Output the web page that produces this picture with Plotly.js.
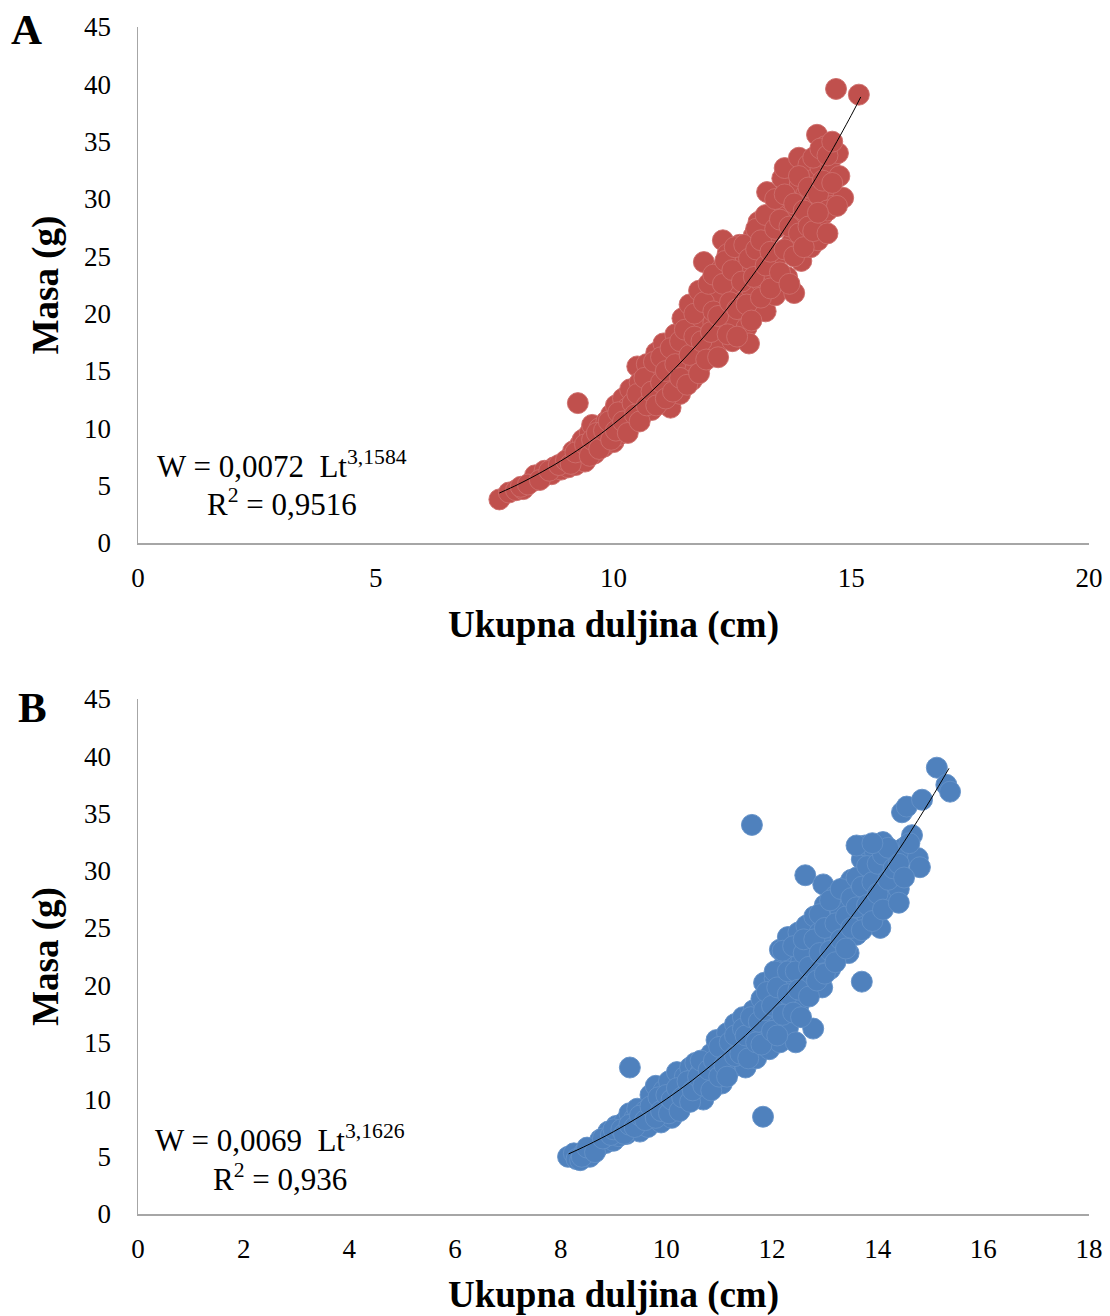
<!DOCTYPE html>
<html>
<head>
<meta charset="utf-8">
<script src="https://cdn.plot.ly/plotly-3.0.1.min.js"></script>
<style>
html,body{margin:0;padding:0;background:#fff;}
#chart{width:1110px;height:1316px;}
</style>
</head>
<body>
<div id="chart"></div>
<script>
// ---- Panel A data (Ukupna duljina cm, Masa g) ----
const lengthA = [7.6,7.8,7.95,8.1,8.05,8.3,8.35,8.5,8.55,8.7,8.75,8.9,8.95,9.05,9.1,9.15,9.25,9.2,9.3,9.3,9.35,9.4,9.45,9.5,9.55,9.6,9.65,9.7,9.75,9.8,9.85,9.9,9.95,10.0,10.0,10.05,10.1,10.15,10.2,10.25,10.3,10.35,10.4,10.45,10.5,10.55,10.6,10.6,10.7,10.75,10.8,10.85,10.9,10.95,11.0,11.05,11.1,11.15,11.2,11.25,11.3,11.35,11.4,11.45,11.5,11.55,11.6,11.65,11.7,11.75,11.8,11.85,11.9,11.95,12.0,12.0,12.05,12.1,12.15,12.2,12.25,12.3,12.3,12.35,12.4,12.45,12.5,12.55,12.6,12.65,12.7,12.75,12.8,12.85,12.9,12.95,13.0,13.0,13.05,13.1,13.15,13.2,13.23,13.3,13.35,13.4,13.45,13.5,13.55,13.6,13.6,13.65,13.7,13.75,13.8,13.85,13.9,13.92,13.95,14.0,14.05,14.1,14.15,14.2,14.25,14.28,14.3,14.35,14.4,14.45,14.5,14.55,14.6,14.68,14.72,14.75,14.83,15.16,
  8.2,8.45,8.65,8.85,9.0,9.1,9.2,9.4,9.5,9.55,9.65,9.7,9.8,9.9,9.95,10.05,10.1,10.2,10.3,10.4,10.45,10.5,10.55,10.65,10.7,10.8,10.85,10.9,11.0,11.0,11.1,11.1,11.2,11.25,11.3,11.4,11.4,11.5,11.55,11.6,11.7,11.7,11.8,11.85,11.9,11.95,12.0,12.05,12.1,12.1,12.2,12.2,12.3,12.35,12.4,12.45,12.5,12.55,12.6,12.6,12.7,12.75,12.8,12.85,12.9,12.95,13.0,13.0,13.1,13.1,13.2,13.2,13.3,13.3,13.4,13.4,13.5,13.5,13.6,13.6,13.7,13.7,13.8,13.8,13.9,13.9,14.0,14.0,14.1,14.1,14.2,14.2,14.3,14.35,14.4,14.5,14.5,14.6,14.6,14.7,14.5,14.3];
const massA   = [3.8,4.4,4.6,4.7,4.9,5.4,5.9,5.7,6.3,6.0,6.6,6.4,7.0,6.6,7.5,8.0,12.2,6.8,7.4,8.6,9.0,7.1,8.2,9.6,10.3,7.8,8.8,10.0,9.2,8.4,10.6,9.6,11.2,8.8,10.2,12.0,9.4,11.0,12.6,10.0,11.8,13.4,10.6,12.4,15.4,14.0,11.2,12.9,15.6,13.8,11.6,14.6,16.6,12.6,15.2,17.4,13.4,16.0,11.8,14.2,18.2,16.8,13.0,19.6,15.2,17.8,20.8,14.2,16.6,19.0,22.0,15.6,24.5,18.0,20.6,16.6,22.6,19.2,17.2,21.4,23.8,26.4,18.6,20.2,25.2,22.4,17.6,19.6,23.2,26.0,21.0,24.4,18.8,17.4,22.2,26.8,20.4,24.2,28.0,22.8,25.6,20.2,30.6,27.0,23.6,21.6,29.2,25.2,31.8,27.8,32.7,23.2,30.0,26.2,21.8,28.6,33.6,31.4,24.6,27.2,30.4,33.0,25.8,29.4,31.8,35.6,26.4,32.8,28.6,34.6,30.8,33.2,29.4,39.6,34.0,32.0,30.1,39.1,
  5.1,5.5,6.3,6.8,7.2,6.9,7.9,8.6,7.6,9.0,9.6,8.2,9.8,10.6,9.0,9.8,11.4,10.6,9.6,12.2,11.2,13.0,10.6,14.4,12.0,13.2,15.8,12.0,14.0,16.2,12.6,15.0,17.0,13.2,15.6,14.4,17.6,18.6,13.8,16.4,18.0,20.0,14.8,17.6,21.0,16.0,22.6,18.4,20.2,23.4,16.2,19.8,22.6,24.6,18.2,21.0,23.8,25.8,20.4,18.0,22.8,26.0,20.8,24.8,19.4,23.2,25.6,27.4,21.4,26.4,24.2,28.6,22.2,25.4,27.4,30.0,23.6,28.2,25.6,30.4,27.6,22.6,29.6,25.0,27.0,32.0,29.0,25.8,31.0,27.6,33.6,27.2,30.4,34.4,31.6,29.0,33.8,35.0,31.4,29.4,27.0,28.8];
// trend line A
const trendLenA  = [7.6,8,8.5,9,9.5,10,10.5,11,11.5,12,12.5,13,13.5,14,14.5,15,15.2];
const trendMassA = [4.36,5.12,6.21,7.43,8.82,10.37,12.10,14.02,16.13,18.45,20.99,23.76,26.76,30.04,33.55,37.3,38.9];

// ---- Panel B data ----
const lengthB = [8.14,8.25,8.3,8.37,8.45,8.55,8.6,8.7,8.75,8.85,8.9,9.0,9.05,9.1,9.2,9.25,9.31,9.3,9.35,9.4,9.45,9.5,9.55,9.6,9.65,9.7,9.75,9.8,9.85,9.9,9.95,10.0,10.05,10.1,10.15,10.2,10.25,10.3,10.35,10.4,10.45,10.5,10.55,10.6,10.65,10.7,10.75,10.8,10.85,10.9,10.95,11.0,11.05,11.1,11.15,11.2,11.25,11.3,11.35,11.4,11.45,11.5,11.55,11.6,11.62,11.65,11.7,11.75,11.8,11.83,11.85,11.9,11.95,12.0,12.05,12.1,12.15,12.15,12.2,12.25,12.3,12.3,12.35,12.4,12.45,12.5,12.5,12.55,12.6,12.63,12.65,12.7,12.75,12.78,12.8,12.85,12.9,12.95,12.97,13.0,13.05,13.1,13.15,13.2,13.25,13.3,13.35,13.4,13.45,13.5,13.55,13.6,13.65,13.7,13.7,13.75,13.76,13.8,13.85,13.9,13.95,14.0,14.05,14.1,14.1,14.15,14.2,14.25,14.3,14.33,14.4,14.45,14.46,14.5,14.55,14.65,14.76,14.8,14.84,15.12,15.3,15.37,
  8.4,8.5,8.65,8.8,8.95,9.0,9.15,9.2,9.3,9.4,9.5,9.6,9.7,9.8,9.85,9.9,10.0,10.05,10.1,10.2,10.25,10.3,10.4,10.45,10.5,10.6,10.65,10.7,10.8,10.85,10.9,11.0,11.0,11.1,11.15,11.2,11.3,11.3,11.4,11.45,11.5,11.55,11.6,11.7,11.75,11.8,11.85,11.9,12.0,12.0,12.05,12.1,12.1,12.2,12.2,12.3,12.3,12.4,12.4,12.45,12.5,12.55,12.6,12.6,12.7,12.7,12.8,12.85,12.9,12.9,13.0,13.0,13.1,13.1,13.2,13.2,13.3,13.3,13.4,13.4,13.5,13.5,13.6,13.6,13.7,13.7,13.8,13.8,13.9,13.9,14.0,14.0,14.1,14.1,14.2,14.2,14.3,14.4,14.5,14.6,14.4,13.6,13.9];
const massB   = [5.0,5.3,4.8,4.7,5.4,5.0,5.6,5.8,6.5,6.2,7.2,6.4,7.7,6.8,8.0,7.0,12.8,8.8,7.4,8.4,9.2,7.2,8.0,9.0,7.6,10.4,8.6,11.2,9.6,8.0,10.8,9.2,11.6,8.4,10.2,12.4,9.6,11.2,12.0,10.4,12.8,11.8,13.2,10.8,12.4,10.0,13.0,11.6,14.0,12.2,15.2,13.4,11.4,14.6,15.8,12.6,14.0,16.6,13.0,15.2,17.2,12.8,14.6,16.2,34.0,17.8,13.6,15.6,18.8,8.5,20.2,16.8,14.4,19.4,20.6,17.4,23.1,15.0,21.6,18.8,24.2,16.2,22.4,20.0,15.0,24.6,18.2,22.0,19.8,29.6,25.2,23.4,20.8,16.2,26.0,22.0,24.6,19.8,28.8,27.0,23.6,21.4,25.6,27.8,23.0,26.4,24.4,28.6,22.8,29.2,26.6,24.4,28.0,20.3,31.0,27.2,32.2,25.6,29.6,27.6,31.6,26.4,25.0,32.5,29.0,27.8,30.8,31.8,27.4,29.6,28.4,31.4,35.1,32.0,35.6,33.1,31.1,30.3,36.2,39.0,37.5,36.9,
  5.0,5.8,5.4,6.6,6.9,7.4,7.4,7.0,7.8,7.6,8.6,8.2,9.4,8.4,10.2,9.0,10.4,8.8,10.0,11.0,9.0,10.2,11.6,9.8,10.8,12.0,13.4,11.2,12.6,10.8,13.4,12.0,14.6,13.0,12.0,15.0,13.8,15.6,14.0,16.2,15.6,13.6,17.2,15.0,16.8,14.8,17.8,19.4,16.0,18.2,21.2,15.6,19.8,17.4,23.0,19.2,21.2,17.6,23.4,21.2,19.6,17.2,22.8,24.0,19.0,21.6,24.0,20.4,22.8,26.2,21.0,25.0,23.0,27.4,22.0,25.4,24.0,28.4,26.0,23.2,27.6,25.0,26.8,29.4,24.8,28.6,30.4,27.0,25.6,29.0,28.0,30.6,26.6,31.4,29.2,32.0,30.2,30.6,29.4,32.4,27.2,32.2,32.4];
const trendLenB  = [8.15,8.5,9,9.5,10,10.5,11,11.5,12,12.5,13,13.5,14,14.5,15,15.35];
const trendMassB = [5.25,6.00,7.19,8.53,10.04,11.71,13.57,15.61,17.87,20.33,23.01,25.94,29.11,32.52,36.20,38.94];

// ---- Text ----
const panelLabels = ['A','B'];
const xTitle = 'Ukupna duljina (cm)';
const yTitle = 'Masa (g)';
const eqA = ['W = 0,0072  Lt<sup>3,1584</sup>', 'R<sup>2</sup> = 0,9516'];
const eqB = ['W = 0,0069  Lt<sup>3,1626</sup>', 'R<sup>2</sup> = 0,936'];

const serif = 'Liberation Serif, Times New Roman, serif';
const red = '#C0504D', blue = '#4F81BD';

const traces = [
  {x: lengthA, y: massA, type:'scatter', mode:'markers', xaxis:'x', yaxis:'y',
   marker:{size:21, color:red, line:{width:1, color:'rgba(205,110,107,0.9)'}}, hoverinfo:'x+y'},
  {x: trendLenA, y: trendMassA, type:'scatter', mode:'lines', xaxis:'x', yaxis:'y',
   line:{color:'#000', width:1, shape:'spline'}},
  {x: lengthB, y: massB, type:'scatter', mode:'markers', xaxis:'x2', yaxis:'y2',
   marker:{size:21, color:blue, line:{width:1, color:'rgba(100,145,200,0.9)'}}, hoverinfo:'x+y'},
  {x: trendLenB, y: trendMassB, type:'scatter', mode:'lines', xaxis:'x2', yaxis:'y2',
   line:{color:'#000', width:1, shape:'spline'}}
];

const xd = [138/1110, 1089/1110];
const tickFont = {family:serif, size:27, color:'#000'};
const yCommon = {
  showgrid:false, zeroline:false, showline:true, linecolor:'#A6A6A6', linewidth:1.5,
  ticks:'outside', ticklen:20, tickcolor:'rgba(0,0,0,0)', tickfont:tickFont
};
const xCommon = {
  showgrid:false, zeroline:false, showline:true, linecolor:'#A6A6A6', linewidth:1.5,
  ticks:'outside', ticklen:10, tickcolor:'rgba(0,0,0,0)', tickfont:tickFont
};
const xTitleObj = {text:'<b>'+xTitle+'</b>', font:{family:serif, size:37, color:'#000'}, standoff:19};
const yTitleObj = {text:'<b>'+yTitle+'</b>', font:{family:serif, size:37, color:'#000'}, standoff:14};

const layout = {
  width:1110, height:1316, margin:{l:0,r:0,t:0,b:0},
  paper_bgcolor:'#fff', plot_bgcolor:'#fff', showlegend:false,
  xaxis: Object.assign({}, xCommon, {domain:xd, anchor:'y', range:[0,20], dtick:5, title:xTitleObj}),
  yaxis: Object.assign({}, yCommon, {domain:[(1316-543)/1316,(1316-27)/1316], anchor:'x', range:[0,45], dtick:5, title:yTitleObj}),
  xaxis2: Object.assign({}, xCommon, {domain:xd, anchor:'y2', range:[0,18], dtick:2, title:xTitleObj}),
  yaxis2: Object.assign({}, yCommon, {domain:[(1316-1214)/1316,(1316-699)/1316], anchor:'x2', range:[0,45], dtick:5, title:yTitleObj}),
  annotations: [
    {text:'<b>'+panelLabels[0]+'</b>', xref:'paper', yref:'paper', x:26/1110, y:1-30/1316, xanchor:'center', yanchor:'middle', showarrow:false, font:{family:serif, size:43, color:'#000'}},
    {text:'<b>'+panelLabels[1]+'</b>', xref:'paper', yref:'paper', x:32/1110, y:1-707/1316, xanchor:'center', yanchor:'middle', showarrow:false, font:{family:serif, size:43, color:'#000'}},
    {text:eqA[0], xref:'paper', yref:'paper', x:282/1110, y:1-465/1316, xanchor:'center', yanchor:'middle', showarrow:false, font:{family:serif, size:31, color:'#000'}},
    {text:eqA[1], xref:'paper', yref:'paper', x:282/1110, y:1-502/1316, xanchor:'center', yanchor:'middle', showarrow:false, font:{family:serif, size:31, color:'#000'}},
    {text:eqB[0], xref:'paper', yref:'paper', x:280/1110, y:1-1138/1316, xanchor:'center', yanchor:'middle', showarrow:false, font:{family:serif, size:31, color:'#000'}},
    {text:eqB[1], xref:'paper', yref:'paper', x:280/1110, y:1-1177/1316, xanchor:'center', yanchor:'middle', showarrow:false, font:{family:serif, size:31, color:'#000'}}
  ]
};

Plotly.newPlot('chart', traces, layout, {displayModeBar:false, staticPlot:true});
</script>
</body>
</html>
